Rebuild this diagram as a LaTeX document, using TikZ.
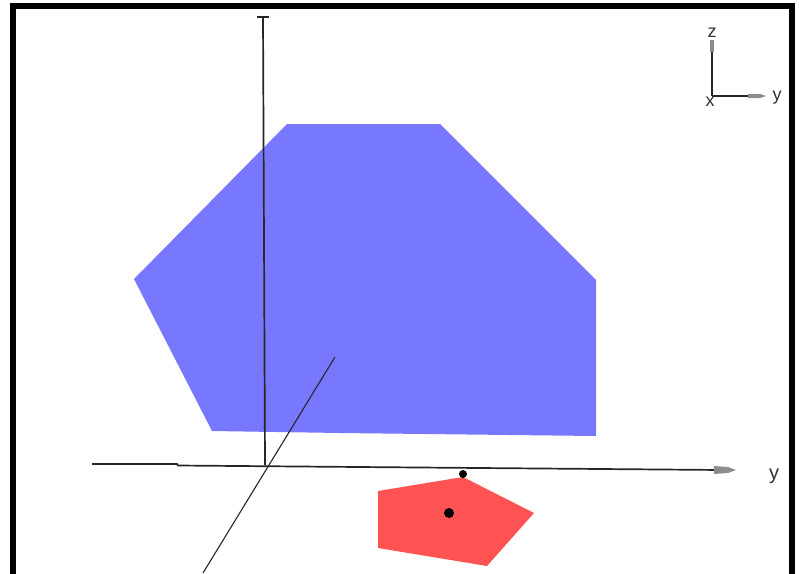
\documentclass[tikz,border=0pt]{standalone}
\usepackage{fontspec}
\setmainfont{Liberation Sans}
\begin{document}
\begin{tikzpicture}[x=1pt,y=-1pt,
  axis/.style={line width=1.7pt,black!85},
  lbl/.style={font=\fontsize{20}{20}\selectfont,text=black!80,inner sep=0pt},
  tipbox/.style={fill=black!45,draw=none},
  dot/.style={circle,fill=black,inner sep=0pt,minimum size=#1}]
\useasboundingbox (0,0) rectangle (799,573);
\fill[white] (0,0) rectangle (799,573);
% blue polygon
\fill[fill={rgb,255:red,120;green,120;blue,255}]
  (287,124) -- (440,124) -- (596,280) -- (596,436) -- (340,433) -- (212,431) -- (134,279) -- cycle;
% red pentagon
\fill[fill={rgb,255:red,255;green,82;blue,82}]
  (378,491) -- (463,477) -- (534,513) -- (487,566) -- (378,548) -- cycle;
% axes
\coordinate (O) at (265,465);
\coordinate (ztop) at (263,17);
\coordinate (yleft) at (92,464);
\coordinate (yright) at (722,470);
\coordinate (xback) at (335,357);
\coordinate (xfront) at (203,573);
\draw[axis] (ztop) -- (O);
\draw[axis] (257,17) -- (269,17);
\draw[axis] (yleft) -- (177,464) -- (178,465.5) -- (yright);
\draw[line width=1.1pt,black!85] (xback) -- (xfront);
\fill[tipbox] (714,466) -- (728,467) -- (736,470) -- (728,473) -- (714,474) -- cycle;
\node[lbl] (ylab) at (774,476) {y};
% dots
\node[dot=8pt] (d1) at (463,474) {};
\node[dot=10pt] (d2) at (449,513) {};
% axis indicator
\coordinate (io) at (712,96);
\coordinate (iz) at (712,50);
\coordinate (iy) at (762,96);
\draw[line width=1.4pt,black!85] (io) -- (iz);
\draw[line width=1.4pt,black!85] (io) -- (iy);
\fill[tipbox] (710,40) rectangle (714,52);
\fill[tipbox] (748,94) -- (760,94) -- (766,96) -- (760,98) -- (748,98) -- cycle;
\node[lbl,font=\fontsize{18}{18}\selectfont] (izl) at (712,33) {z};
\node[lbl,font=\fontsize{18}{18}\selectfont] (iyl) at (777,98) {y};
\node[lbl,font=\fontsize{18}{18}\selectfont] (ixl) at (710,102) {x};
% frame
\draw[line width=6pt,black] (13,580) -- (13,6) -- (792,6) -- (792,580);
\end{tikzpicture}
\end{document}
